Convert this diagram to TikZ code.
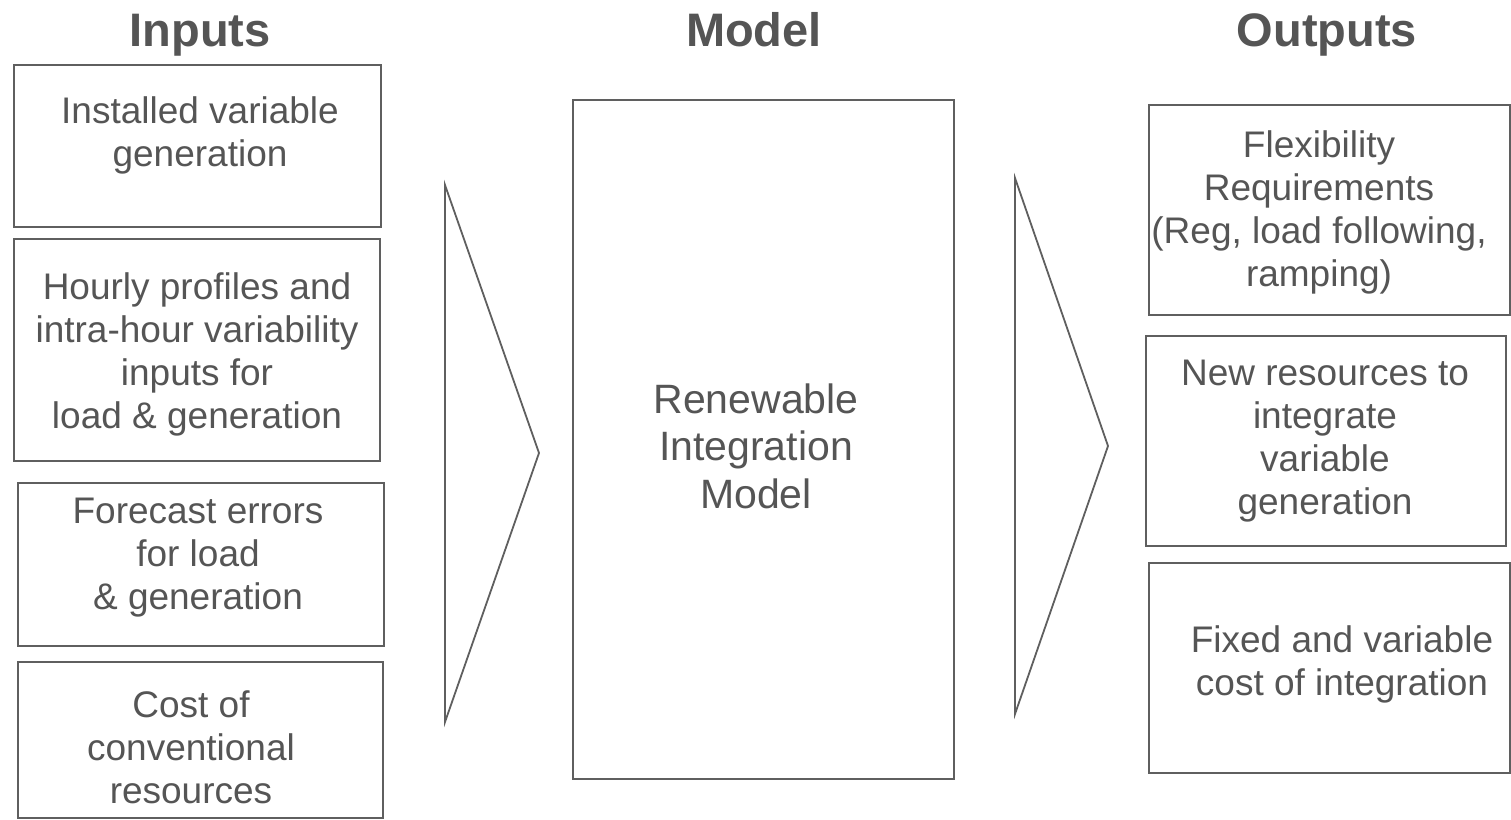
\documentclass[tikz,border=0pt]{standalone}
\usepackage{fontspec}
\setmainfont{Liberation Sans}
\definecolor{ink}{RGB}{85,85,85}
\definecolor{rule}{RGB}{95,95,95}
\begin{document}
\begin{tikzpicture}[x=1pt,y=-1pt,
  box/.style={draw=rule, line width=1.8pt, fill=white, rectangle, inner sep=0pt},
  txt/.style={text=ink, align=center, inner sep=0pt, font=\fontsize{37}{43}\selectfont},
  head/.style={text=ink, inner sep=0pt, anchor=base, font=\fontsize{47}{52}\selectfont\bfseries},
  wedge/.style={draw=rule, line width=1.8pt, line join=miter}]
\useasboundingbox (0,0) rectangle (1511,819);

% column headings
\node[head] (hin)  at (200,46) {Inputs};
\node[head] (hmod) at (754,46) {Model};
\node[head] (hout) at (1327,46) {Outputs};

% input boxes
\node[box, minimum width=367pt, minimum height=162pt] (in1) at (197.5,146) {};
\node[box, minimum width=366pt, minimum height=222pt] (in2) at (197,350) {};
\node[box, minimum width=366pt, minimum height=163pt] (in3) at (201,564.5) {};
\node[box, minimum width=365pt, minimum height=156pt] (in4) at (200.5,740) {};

\node[txt] (tin1) at (200,135) {Installed variable\\generation};
\node[txt] (tin2) at (197,354) {Hourly profiles and\\intra-hour variability\\inputs for\\load \& generation};
\node[txt] (tin3) at (198,558) {Forecast errors\\for load\\\& generation};
\node[txt] (tin4) at (191,747) {Cost of\\conventional\\resources};

% model box
\node[box, minimum width=381pt, minimum height=679pt] (model) at (763.5,439.5) {};
\node[txt, font=\fontsize{41}{47.5}\selectfont] (tmod) at (756,446) {Renewable\\Integration\\Model};

% output boxes
\node[box, minimum width=361pt, minimum height=210pt] (out1) at (1329.5,210) {};
\node[box, minimum width=360pt, minimum height=210pt] (out2) at (1326,441) {};
\node[box, minimum width=361pt, minimum height=210pt] (out3) at (1329.5,668) {};

\node[txt] (tout1) at (1319,212) {Flexibility\\Requirements\\(Reg, load following,\\ramping)};
\node[txt] (tout2) at (1325,441) {New resources to\\integrate\\variable\\generation};
\node[txt] (tout3) at (1342,664) {Fixed and variable\\cost of integration};

% flow wedges
\draw[wedge] (445,185) -- (539,453) -- (445,722) -- cycle;
\draw[wedge] (1015,178) -- (1108,446) -- (1015,714) -- cycle;
\end{tikzpicture}
\end{document}
